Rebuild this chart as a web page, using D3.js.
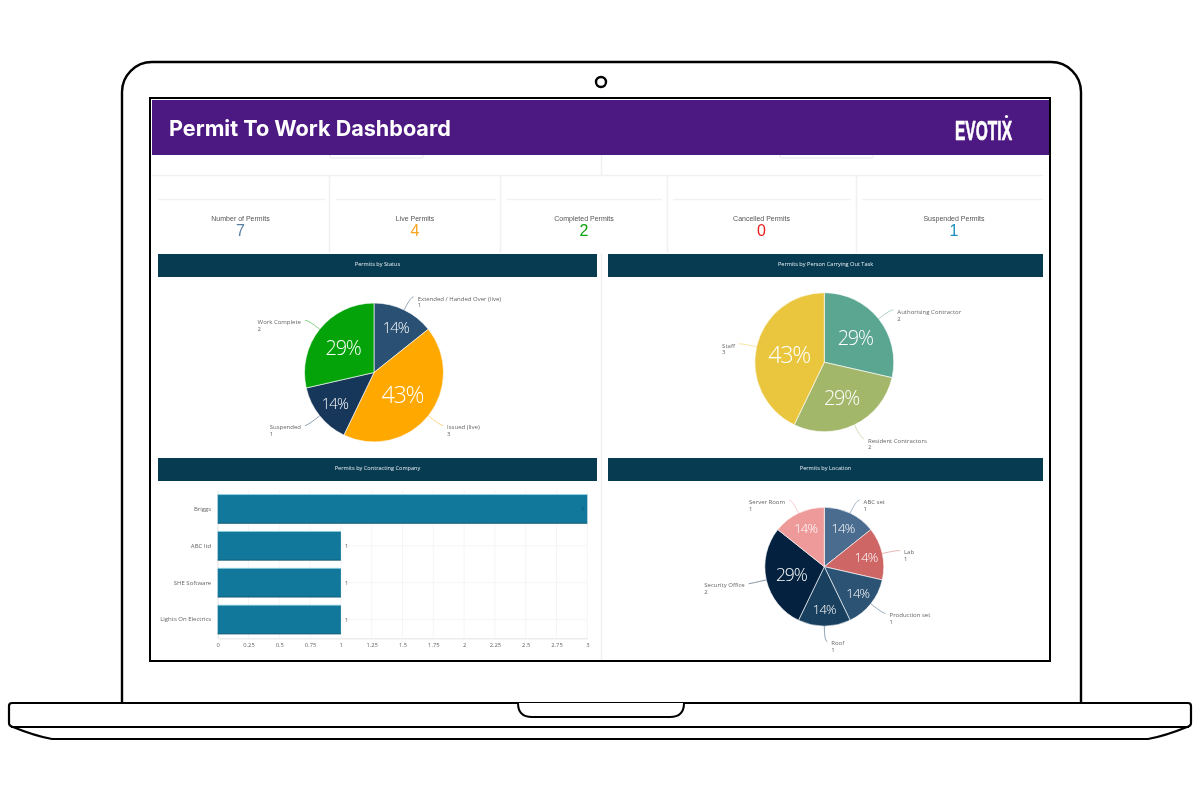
<!DOCTYPE html>
<html><head><meta charset="utf-8">
<script src="https://cdn.jsdelivr.net/npm/d3@7/dist/d3.min.js"></script>
<style>html,body{margin:0;padding:0;background:#fff}svg{display:block}</style>
</head><body><svg id="c" width="1200" height="800"></svg>
<script>
const dashboardTitle = "Permit To Work Dashboard";
const statLabels = ["Number of Permits","Live Permits","Completed Permits","Cancelled Permits","Suspended Permits"];
const statValues = [7,4,2,0,1];
const statusNames = ["Extended / Handed Over (live)","Issued (live)","Suspended","Work Complete"];
const statusValues = [1,3,1,2];
const personNames = ["Authorising Contractor","Resident Contractors","Staff"];
const personValues = [2,2,3];
const locationNames = ["ABC set","Lab","Production set","Roof","Security Office","Server Room"];
const locationValues = [1,1,1,1,2,1];
const companyNames = ["Briggs","ABC ltd","SHE Software","Lights On Electrics"];
const companyValues = [3,1,1,1];
const xTicks = [0,0.25,0.5,0.75,1,1.25,1.5,1.75,2,2.25,2.5,2.75,3];

const statusColors = ["#2a5173","#ffa800","#17375a","#04a30a"];
const personColors = ["#5aa690","#a3b76a","#eac63f"];
const locationColors = ["#4a6c8f","#cf6666","#2c5374","#19405f","#04223f","#ee9a9a"];
const statColors = ["#5b7fa3","#f5a623","#0fa30f","#e81c1c","#1f8fbf"];

const root = d3.select("#c");
const SANS = "'Open Sans',sans-serif";
const ink = "#000";

// laptop outline
const frame = root.append("g").attr("fill","none").attr("stroke",ink);
frame.append("path").attr("stroke-width",2.4)
  .attr("d","M122 703V92A30 30 0 0 1 152 62H1051A30 30 0 0 1 1081 92V703");
frame.append("circle").attr("cx",601).attr("cy",82).attr("r",5).attr("stroke-width",2.4);
frame.append("path").attr("stroke-width",2.2).attr("fill","#fff")
  .attr("d","M12 703H1188Q1191 703 1191 706V723Q1191 726 1187 727Q1165 736 1148 739H52Q35 736 13 727Q9 726 9 723V706Q9 703 12 703Z");
frame.append("path").attr("stroke-width",2.2).attr("d","M11 727H1189");
frame.append("path").attr("stroke-width",2).attr("fill","#fff")
  .attr("d","M518 703Q518 717 532 717H670Q684 717 684 703");

// screen
root.append("rect").attr("x",150).attr("y",98).attr("width",900).attr("height",563)
  .attr("fill","#fff").attr("stroke",ink).attr("stroke-width",2);

const svg = root.append("g").attr("style","filter:blur(.3px)");

// faint dashboard structure
const faint = svg.append("g").attr("stroke","#f1f1f1").attr("stroke-width",1.6).attr("fill","none");
[[330,423],[780,873]].forEach(([a,b])=>faint.append("path").attr("stroke","#e6e6e6").attr("stroke-width",1).attr("d",`M${a} 155V157Q${a} 158 ${a+2} 158H${b-2}Q${b} 158 ${b} 157V155`));
faint.append("path").attr("d","M152 175.5H1043M601.5 155V175M601.5 253V660");
[329.5,500.5,667.5,856.5].forEach(x=>faint.append("path").attr("d",`M${x} 175V253`));
[[158,325],[336,496],[507,662],[673,851],[862,1043]].forEach(([a,b])=>faint.append("path").attr("d",`M${a} 199.5H${b}`));

// header
svg.append("rect").attr("x",152).attr("y",100).attr("width",897).attr("height",55).attr("fill","#4c1983");
svg.append("text").attr("x",169).attr("y",136).text(dashboardTitle)
  .attr("font-family","Inter,sans-serif").attr("font-weight",700).attr("font-size",21.6).attr("fill","#fff");
svg.append("text").attr("x",955).attr("y",139.5).text("EVOTIX").attr("textLength",57).attr("lengthAdjust","spacingAndGlyphs")
  .attr("font-family","'Liberation Sans Narrow','Liberation Sans',sans-serif").attr("font-weight",700).attr("font-size",27)
  .attr("fill","#fff").attr("stroke","#fff").attr("stroke-width",.7);
svg.append("circle").attr("cx",1006.5).attr("cy",116.5).attr("r",1.6).attr("fill","#fff");

// stat cards
const statCentres = [240.5,415,584,761.5,954];
const stats = svg.append("g").attr("text-anchor","middle").attr("font-family","'Liberation Sans',Arial,sans-serif");
statLabels.forEach((s,i)=>{
  stats.append("text").attr("x",statCentres[i]).attr("y",220.5).attr("font-size",7).attr("fill","#555").text(s);
  stats.append("text").attr("x",statCentres[i]).attr("y",236).attr("font-size",16).attr("fill",statColors[i]).text(statValues[i]);
});

// panel title bars
[[158,254,439,"Permits by Status"],[608,254,435,"Permits by Person Carrying Out Task"],
 [158,458,439,"Permits by Contracting Company"],[608,458,435,"Permits by Location"]].forEach(([x,y,w,t])=>{
  svg.append("rect").attr("x",x).attr("y",y).attr("width",w).attr("height",23).attr("fill","#073b52");
  svg.append("text").attr("x",x+w/2).attr("y",y+12.3).attr("text-anchor","middle").attr("font-family",SANS)
    .attr("font-size",5.6).attr("fill","#e8eef1").text(t);
});

// pies
function drawPie(cx,cy,r,names,values,colors,pctScale){
  const total = d3.sum(values);
  const pie = d3.pie().sort(null)(values);
  const arc = d3.arc().innerRadius(0).outerRadius(r);
  const g = svg.append("g").attr("transform",`translate(${cx},${cy})`);
  g.selectAll("path.s").data(pie).join("path").attr("class","s").attr("d",arc)
    .attr("fill",(d,i)=>colors[i]).attr("stroke","#fff").attr("stroke-opacity",.7).attr("stroke-width",.9);
  pie.forEach((d,i)=>{
    const a = (d.startAngle+d.endAngle)/2;
    const p0 = d3.pointRadial(a,r), p1 = d3.pointRadial(a,r+15);
    const dir = Math.sin(a) > -1e-6 ? 1 : -1;
    const p2 = [p1[0]+dir*3,p1[1]+.5];
    g.append("path").attr("fill","none").attr("stroke",colors[i]).attr("stroke-opacity",.6).attr("stroke-width",.8)
      .attr("d",`M${p0}Q${p1} ${p2}`);
    const lab = g.append("text").attr("font-family",SANS).attr("font-size",6).attr("fill","#666");
    const t1 = lab.append("tspan").attr("y",p1[1]+4.2).text(names[i]);
    const w = t1.node().getComputedTextLength();
    const tx = dir>0 ? p2[0]+4 : p2[0]-4-w;
    t1.attr("x",tx);
    lab.append("tspan").attr("x",tx).attr("y",p1[1]+11).text(d.value);
    const c = d3.pointRadial(a,r*(0.42+0.3/d.value));
    g.append("text").attr("x",c[0]).attr("y",c[1]).attr("dy",".36em").attr("text-anchor","middle")
      .attr("font-family",SANS).attr("font-weight",300).attr("letter-spacing","-.06em")
      .attr("font-size",pctScale*Math.pow(d.value,.42)).attr("fill","#fff")
      .text(d3.format(".0%")(d.value/total));
  });
}
drawPie(374,372.5,69.5,statusNames,statusValues,statusColors,14.8);
drawPie(824.3,362.2,69.5,personNames,personValues,personColors,14.8);
drawPie(824.3,566.7,59.5,locationNames,locationValues,locationColors,13);

// bar chart
const x = d3.scaleLinear().domain([0,3]).range([217.7,587.3]);
const y = d3.scaleBand().domain(companyNames).range([490.5,638]).paddingInner(.22).paddingOuter(.11);
const gridG = svg.append("g").attr("stroke","#f3f3f3").attr("stroke-width",.8);
gridG.selectAll("line.v").data(xTicks).join("line").attr("class","v")
  .attr("x1",d=>x(d)).attr("x2",d=>x(d)).attr("y1",490).attr("y2",638);
gridG.selectAll("line.h").data(companyNames).join("line").attr("class","h")
  .attr("x1",x(0)).attr("x2",x(3)).attr("y1",d=>y(d)+y.bandwidth()/2).attr("y2",d=>y(d)+y.bandwidth()/2);
const xAxis = d3.axisBottom(x).tickValues(xTicks).tickSize(0).tickPadding(5).tickFormat(d3.format("~g"));
const axG = svg.append("g").attr("transform","translate(0,638.3)").call(xAxis);
axG.select(".domain").attr("stroke","#dcdcdc").attr("stroke-width",.8);
axG.selectAll("text").attr("font-family",SANS).attr("font-size",5.8).attr("fill","#666");
const yAxis = d3.axisLeft(y).tickSize(0).tickPadding(6.5);
const ayG = svg.append("g").attr("transform",`translate(${x(0)},0)`).call(yAxis);
ayG.select(".domain").attr("stroke","#e4e4e4").attr("stroke-width",.8);
ayG.selectAll("text").attr("font-family",SANS).attr("font-size",6).attr("fill","#666");
svg.selectAll("rect.b").data(companyValues).join("rect").attr("class","b")
  .attr("x",x(0)).attr("y",(d,i)=>y(companyNames[i])).attr("width",d=>x(d)-x(0)).attr("height",y.bandwidth())
  .attr("fill","#12789b");
svg.selectAll("line.bt").data(companyValues).join("line").attr("class","bt")
  .attr("x1",x(0)).attr("x2",d=>x(d)).attr("y1",(d,i)=>y(companyNames[i])).attr("y2",(d,i)=>y(companyNames[i]))
  .attr("stroke","#8fd2e4").attr("stroke-width",.8);
svg.selectAll("line.bb").data(companyValues).join("line").attr("class","bb")
  .attr("x1",x(0)).attr("x2",d=>x(d)).attr("y1",(d,i)=>y(companyNames[i])+y.bandwidth()).attr("y2",(d,i)=>y(companyNames[i])+y.bandwidth())
  .attr("stroke","#0b4f6b").attr("stroke-width",.8);
svg.selectAll("text.v").data(companyValues).join("text").attr("class","v")
  .attr("x",d=>d===3?x(d)-3:x(d)+4).attr("y",(d,i)=>y(companyNames[i])+y.bandwidth()/2).attr("dy",".35em")
  .attr("text-anchor",d=>d===3?"end":"start").attr("font-family",SANS).attr("font-size",5.8)
  .attr("fill",d=>d===3?"#0b5a78":"#666").text(d=>d);
</script></body></html>
